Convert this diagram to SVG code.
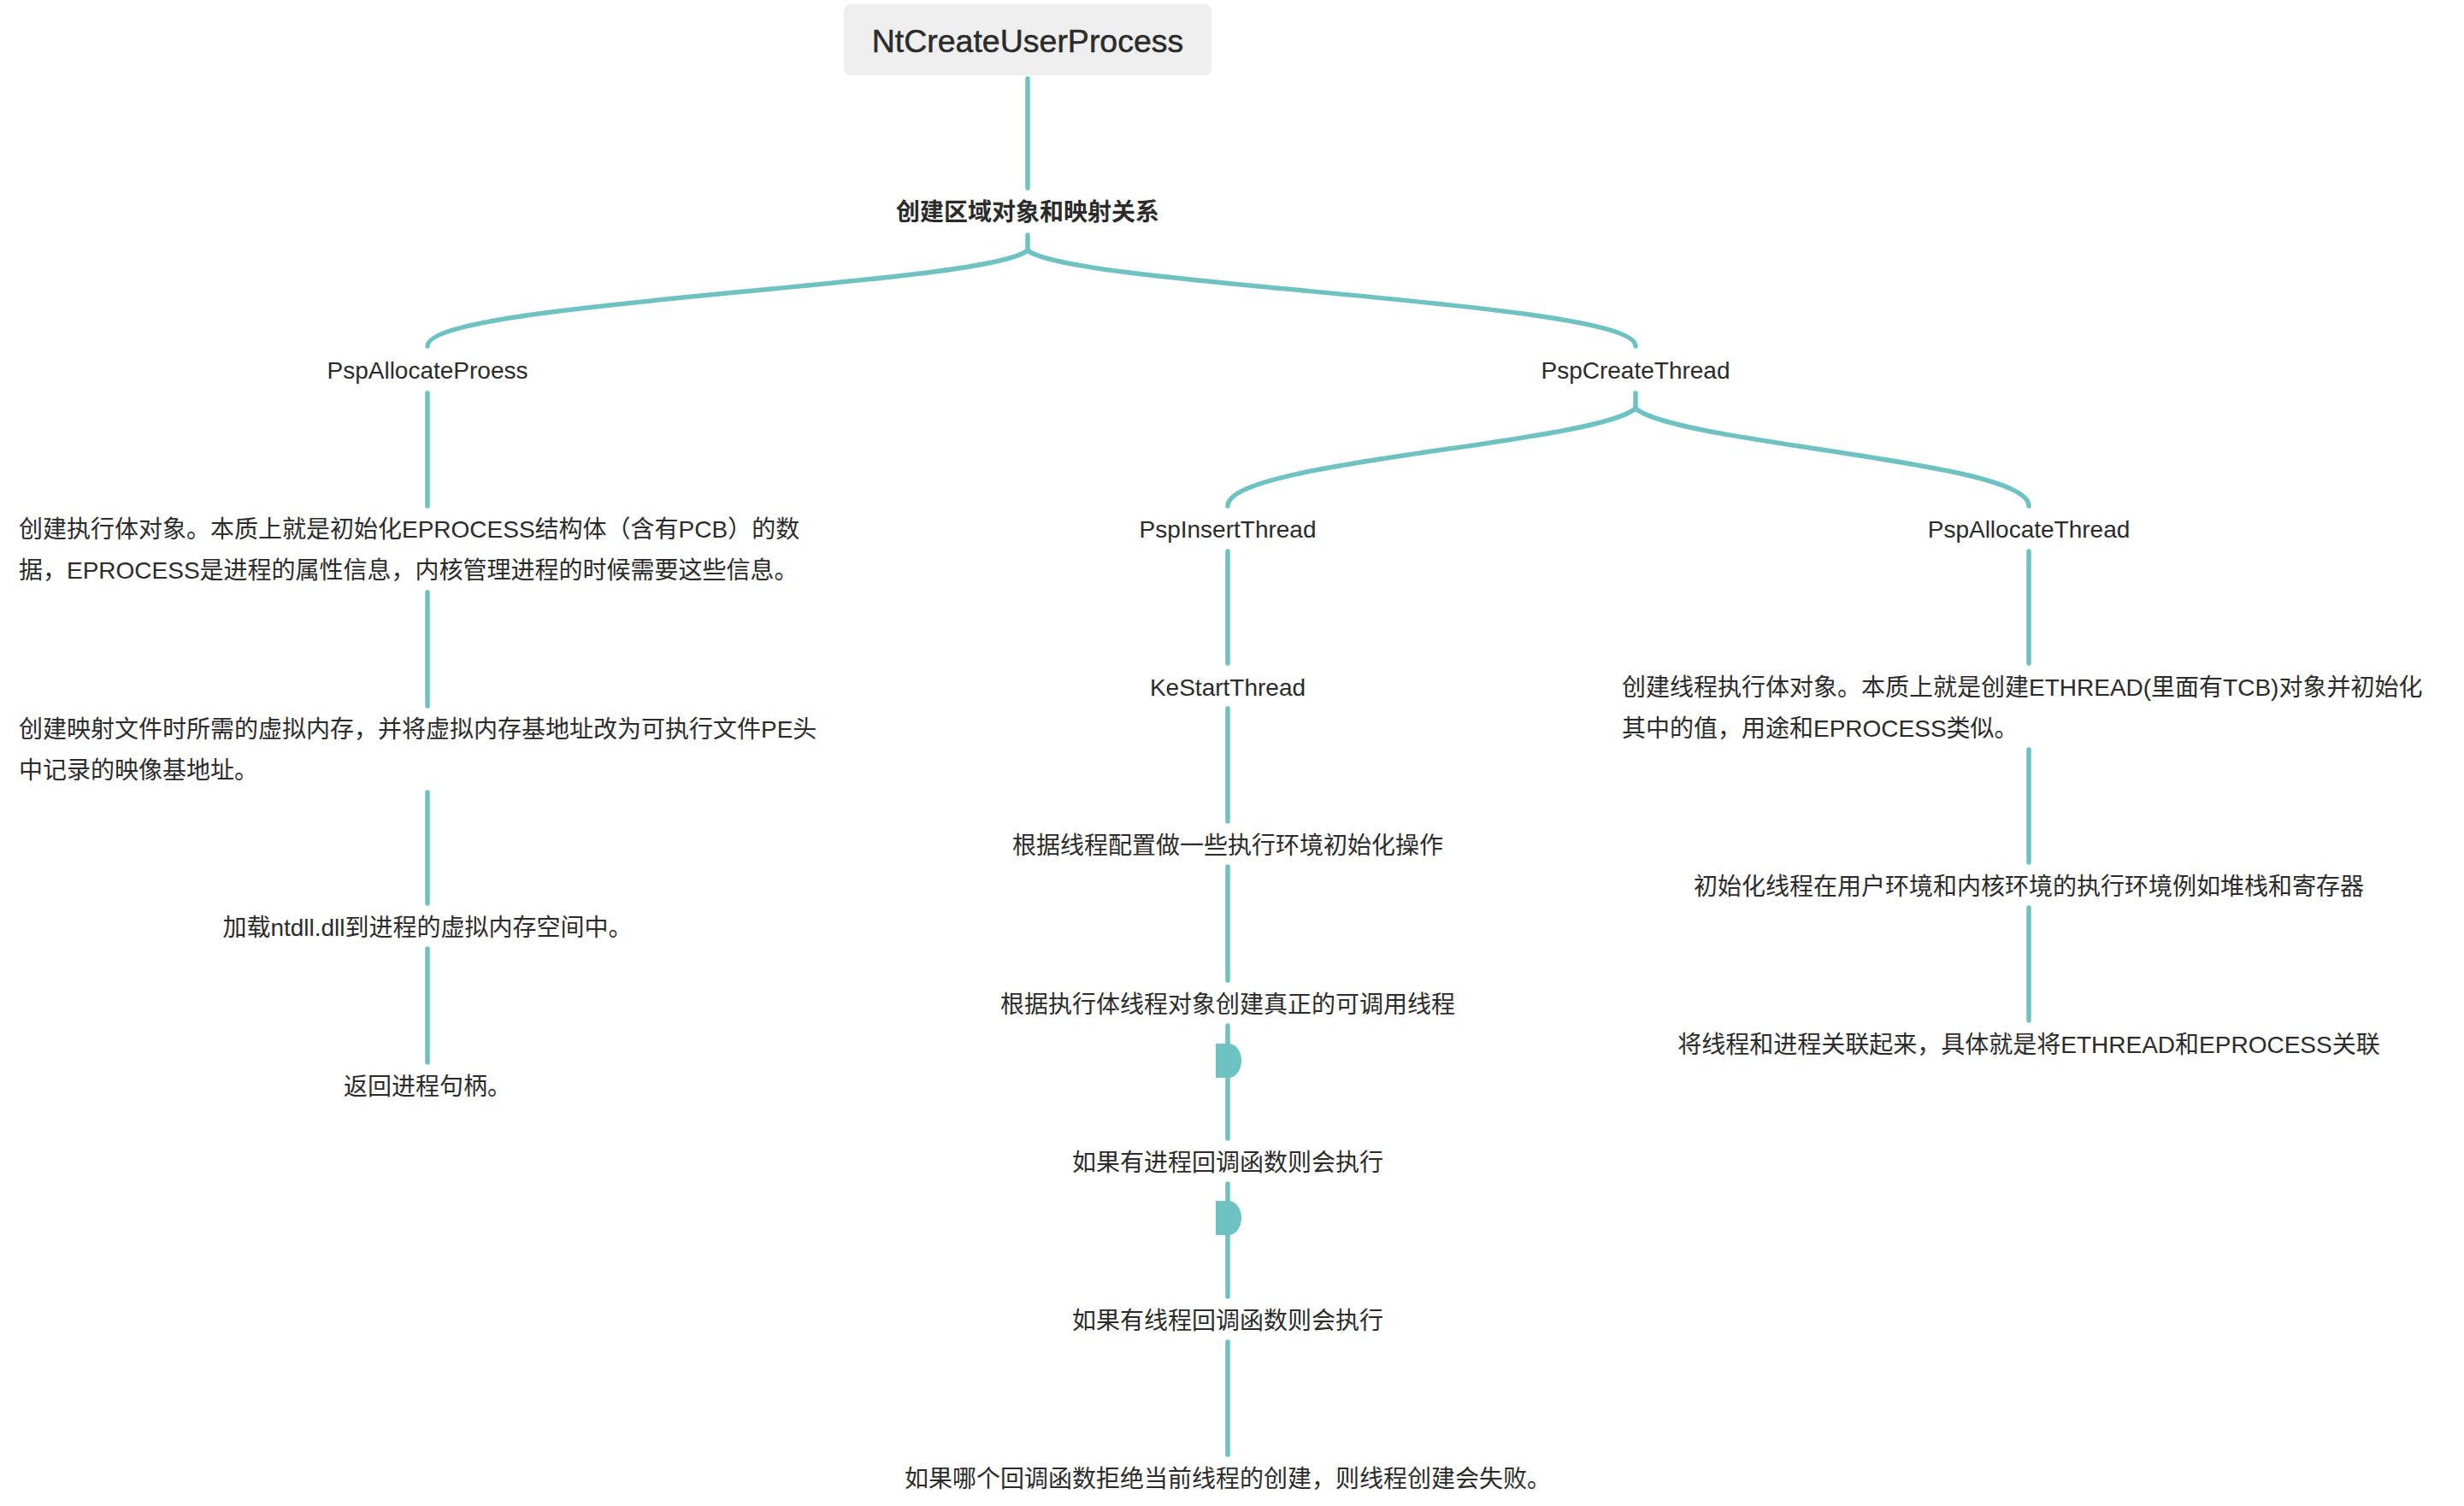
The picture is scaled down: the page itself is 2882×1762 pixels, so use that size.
<svg xmlns="http://www.w3.org/2000/svg" width="2882" height="1762" viewBox="0 0 2882 1762">
  <style>
    .t { font-family: "Liberation Sans", "Noto Sans CJK SC", sans-serif; font-size: 28px; fill: #2b2b2b; }
    .c { text-anchor: middle; }
    .b { font-weight: bold; }
    .root { font-family: "Liberation Sans", "Noto Sans CJK SC", sans-serif; font-size: 37.5px; fill: #2b2b2b; text-anchor: middle; stroke: #2b2b2b; stroke-width: 0.5; }
    .ln { fill: none; stroke: #6ec2c2; stroke-width: 5.5; stroke-linecap: round; stroke-linejoin: round; }
    .dot { fill: #6ec2c2; }
  </style>
  <rect width="2882" height="1762" fill="#ffffff"/>
  <g id="connectors">
    <path class="ln" d="M1202,92 V220"/>
    <path class="ln" d="M1202,275 V293 C1150,335 500,352 500,405"/>
    <path class="ln" d="M1202,293 C1254,335 1913,352 1913,405"/>
    <path class="ln" d="M500,460 V592"/>
    <path class="ln" d="M500,693 V826"/>
    <path class="ln" d="M500,927 V1057"/>
    <path class="ln" d="M500,1110 V1243"/>
    <path class="ln" d="M1913,460 V478 C1861,520 1436,539 1436,592"/>
    <path class="ln" d="M1913,478 C1965,520 2373,539 2373,592"/>
    <path class="ln" d="M1436,645 V776"/>
    <path class="ln" d="M1436,829 V961"/>
    <path class="ln" d="M1436,1014 V1147"/>
    <path class="ln" d="M1436,1200 V1332"/>
    <path class="dot" d="M1422,1221 H1437 A15,20 0 0 1 1437,1261 H1422 Z"/>
    <path class="ln" d="M1436,1385 V1517"/>
    <path class="dot" d="M1422,1405 H1437 A15,20 0 0 1 1437,1445 H1422 Z"/>
    <path class="ln" d="M1436,1570 V1702"/>
    <path class="ln" d="M2373,645 V776"/>
    <path class="ln" d="M2373,877 V1009"/>
    <path class="ln" d="M2373,1062 V1194"/>
  </g>
  <g id="n-root">
    <rect x="987" y="5" width="430" height="83" rx="7" fill="#efefef"/>
    <text class="root" x="1202" y="61">NtCreateUserProcess</text>
  </g>
  <g id="n-section"><text class="t c b" x="1202" y="258">创建区域对象和映射关系</text></g>
  <g id="n-pspallocateproess"><text class="t c" x="500" y="443">PspAllocateProess</text></g>
  <g id="n-l1">
    <text class="t" x="22" y="629">创建执行体对象。本质上就是初始化EPROCESS结构体（含有PCB）的数</text>
    <text class="t" x="22" y="677">据，EPROCESS是进程的属性信息，内核管理进程的时候需要这些信息。</text>
  </g>
  <g id="n-l2">
    <text class="t" x="22" y="863">创建映射文件时所需的虚拟内存，并将虚拟内存基地址改为可执行文件PE头</text>
    <text class="t" x="22" y="911">中记录的映像基地址。</text>
  </g>
  <g id="n-l3"><text class="t c" x="500" y="1095">加载ntdll.dll到进程的虚拟内存空间中。</text></g>
  <g id="n-l4"><text class="t c" x="500" y="1281">返回进程句柄。</text></g>
  <g id="n-pspcreatethread"><text class="t c" x="1913" y="443">PspCreateThread</text></g>
  <g id="n-pspinsertthread"><text class="t c" x="1436" y="629">PspInsertThread</text></g>
  <g id="n-kestartthread"><text class="t c" x="1436" y="814">KeStartThread</text></g>
  <g id="n-m1"><text class="t c" x="1436" y="999">根据线程配置做一些执行环境初始化操作</text></g>
  <g id="n-m2"><text class="t c" x="1436" y="1185">根据执行体线程对象创建真正的可调用线程</text></g>
  <g id="n-m3"><text class="t c" x="1436" y="1370">如果有进程回调函数则会执行</text></g>
  <g id="n-m4"><text class="t c" x="1436" y="1555">如果有线程回调函数则会执行</text></g>
  <g id="n-m5"><text class="t c" x="1436" y="1740">如果哪个回调函数拒绝当前线程的创建，则线程创建会失败。</text></g>
  <g id="n-pspallocatethread"><text class="t c" x="2373" y="629">PspAllocateThread</text></g>
  <g id="n-r1">
    <text class="t" x="1897" y="814">创建线程执行体对象。本质上就是创建ETHREAD(里面有TCB)对象并初始化</text>
    <text class="t" x="1897" y="862">其中的值，用途和EPROCESS类似。</text>
  </g>
  <g id="n-r2"><text class="t c" x="2373" y="1047">初始化线程在用户环境和内核环境的执行环境例如堆栈和寄存器</text></g>
  <g id="n-r3"><text class="t c" x="2373" y="1232">将线程和进程关联起来，具体就是将ETHREAD和EPROCESS关联</text></g>
</svg>
